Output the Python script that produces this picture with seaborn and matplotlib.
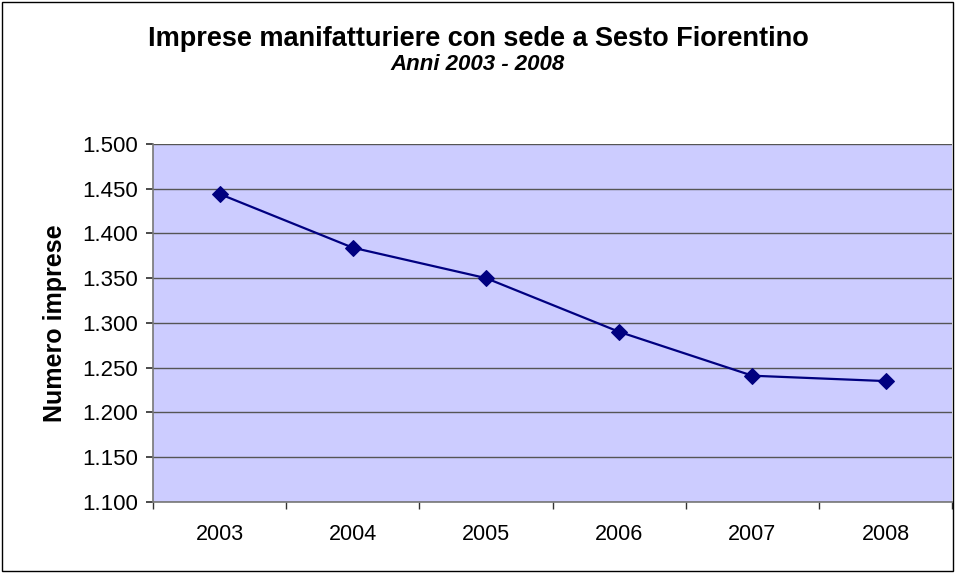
import matplotlib
matplotlib.use("Agg")
import matplotlib.pyplot as plt
import matplotlib.patches as mpatches
from matplotlib.ticker import FuncFormatter, FixedLocator
import seaborn as sns
import pandas as pd

# Data
anni = ["2003", "2004", "2005", "2006", "2007", "2008"]
imprese = [1444, 1384, 1350, 1290, 1241, 1235]

df = pd.DataFrame({"pos": range(len(anni)), "imprese": imprese})

sns.set_theme(style="white")
plt.rcParams["font.family"] = ["Liberation Sans", "DejaVu Sans"]
plt.rcParams.update({"text.color": "black", "axes.labelcolor": "black",
                     "xtick.color": "black", "ytick.color": "black"})

fig = plt.figure(figsize=(9.56, 5.73), dpi=100)
ax = fig.add_axes([0.160, 0.124, 0.836, 0.625])
ax.set_facecolor("#CCCCFF")

sns.lineplot(data=df, x="pos", y="imprese", ax=ax, color="#000080",
             marker="D", markersize=8, markeredgecolor="#000080",
             linewidth=1.6, zorder=3)

ax.set_ylim(1100, 1500)
ax.set_yticks(range(1100, 1501, 50))
ax.yaxis.set_major_formatter(FuncFormatter(lambda v, p: f"{int(v):,}".replace(",", ".")))
ax.grid(axis="y", color="#555555", linewidth=1.0)
ax.set_axisbelow(True)

ax.set_xlim(-0.5, len(anni) - 0.5)
ax.set_xticks(range(len(anni)))
ax.set_xticklabels(anni)
ax.xaxis.set_minor_locator(FixedLocator([i - 0.5 for i in range(len(anni) + 1)]))
ax.tick_params(axis="x", which="major", length=0, pad=16, labelsize=15.5)
ax.tick_params(axis="x", which="minor", length=5, color="#333333", bottom=True)
ax.tick_params(axis="y", length=5, color="#333333", left=True, labelsize=16, pad=6)

for side in ["top", "right"]:
    ax.spines[side].set_visible(False)
for side in ["left", "bottom"]:
    ax.spines[side].set_color("#777777")
    ax.spines[side].set_linewidth(1.2)

ax.set_xlabel("")
ax.set_ylabel("Numero imprese", fontsize=18, fontweight="bold", labelpad=11)

fig.text(0.5, 0.932, "Imprese manifatturiere con sede a Sesto Fiorentino",
         ha="center", va="center", fontsize=19.5, fontweight="bold")
fig.text(0.5, 0.887, "Anni 2003 - 2008", ha="center", va="center",
         fontsize=16, fontweight="bold", style="italic")

fig.patches.append(mpatches.Rectangle((0.002, 0.003), 0.995, 0.994,
                                      transform=fig.transFigure, fill=False,
                                      edgecolor="black", linewidth=1.0))

fig.savefig("out.png", dpi=100, facecolor="white")
